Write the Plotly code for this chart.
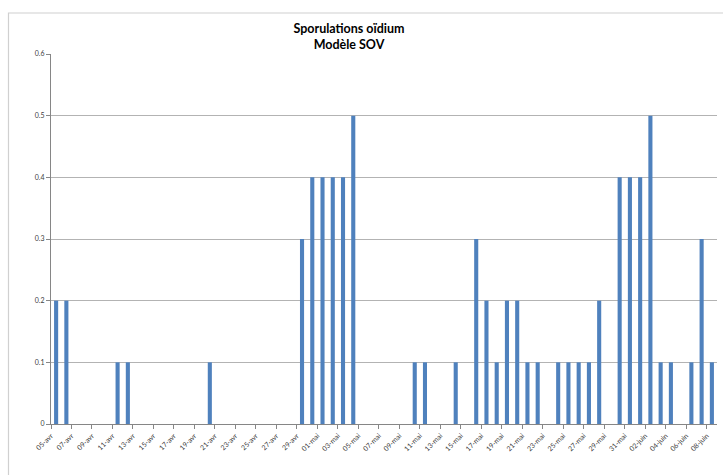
import plotly.graph_objects as go
import pandas as pd

# Data: one value per day, 05-avr to 08-juin
dates = pd.date_range("2013-04-05", "2013-06-08", freq="D")
values = [
    0.2, 0.2, 0, 0, 0, 0, 0.1, 0.1, 0, 0,          # 05-avr .. 14-avr
    0, 0, 0, 0, 0, 0.1, 0, 0, 0, 0,                # 15-avr .. 24-avr
    0, 0, 0, 0, 0.3, 0.4, 0.4, 0.4, 0.4, 0.5,      # 25-avr .. 04-mai
    0, 0, 0, 0, 0, 0.1, 0.1, 0, 0, 0.1,            # 05-mai .. 14-mai
    0, 0.3, 0.2, 0.1, 0.2, 0.2, 0.1, 0.1, 0, 0.1,  # 15-mai .. 24-mai
    0.1, 0.1, 0.1, 0.2, 0, 0.4, 0.4, 0.4, 0.5, 0.1,  # 25-mai .. 03-juin
    0.1, 0, 0.1, 0.3, 0.1,                         # 04-juin .. 08-juin
]
mois = {4: "avr", 5: "mai", 6: "juin"}
tick_dates = dates[::2]
tick_labels = [f"{d.day:02d}-{mois[d.month]}" for d in tick_dates]

title_text = "Sporulations oïdium<br>Modèle SOV"

W, H = 723, 475
L, R, T, B = 51, 6, 54, 51
pw, ph = W - L - R, H - T - B

fig = go.Figure()
fig.add_trace(go.Bar(
    x=[d.strftime("%Y-%m-%d") for d in dates],
    y=values,
    xperiod=86400000,
    xperiodalignment="middle",
    marker=dict(color="#4f81bd", line=dict(width=0)),
    width=86400000 * 0.4,
))

fig.update_layout(
    width=W, height=H,
    margin=dict(l=L, r=R, t=T, b=B),
    paper_bgcolor="white", plot_bgcolor="white",
    showlegend=False,
    font=dict(family="Lato, Open Sans, sans-serif", color="#404040"),
    title=dict(text="<b>" + title_text.replace("<br>", "</b><br><b>") + "</b>",
               x=349 / W, xanchor="center", y=1 - 33 / H, yanchor="middle",
               font=dict(size=12.5, color="#000000")),
    xaxis=dict(
        type="date",
        range=["2013-04-05", "2013-06-09"],
        tickvals=[d.strftime("%Y-%m-%d") for d in tick_dates],
        ticktext=tick_labels,
        tickangle=-45,
        tickfont=dict(size=7, color="#404040"),
        ticks="outside", ticklen=4, tickcolor="#868686",
        showline=True, linecolor="#868686", linewidth=1,
        showgrid=False, zeroline=False,
    ),
    yaxis=dict(
        range=[0, 0.6], dtick=0.1, tick0=0,
        tickfont=dict(size=7, color="#404040"),
        ticks="outside", ticklen=4, tickcolor="#868686",
        showline=True, linecolor="#868686", linewidth=1,
        showgrid=True, gridcolor="#b3b3b3", gridwidth=1,
        zeroline=False,
    ),
    shapes=[dict(
        type="rect", xref="paper", yref="paper",
        x0=(8.5 - L) / pw, x1=(W + 20 - L) / pw,
        y0=-(B + 20) / ph, y1=(H - B - 13) / ph,
        line=dict(color="#d0d0d0", width=1.2),
        fillcolor="rgba(0,0,0,0)", layer="below",
    )],
)

fig.write_html("out.html",
               config={"displayModeBar": False},
               post_script="document.body.style.margin='0';document.body.style.overflow='hidden';")
